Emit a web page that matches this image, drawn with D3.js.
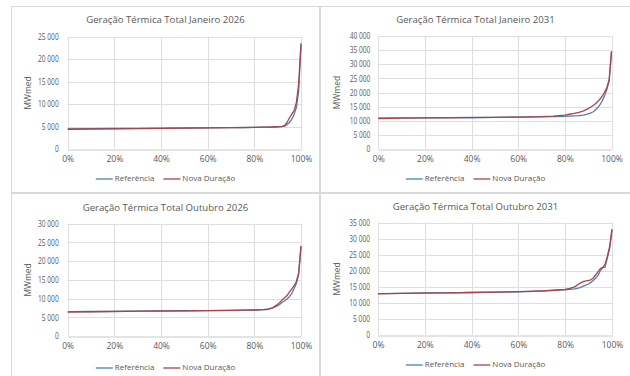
<!DOCTYPE html>
<html>
<head>
<meta charset="utf-8">
<script src="https://cdn.jsdelivr.net/npm/d3@7"></script>
<style>
  html, body { margin: 0; padding: 0; background: #fff; }
  svg { display: block; }
  text { font-family: "Open Sans", "Liberation Sans", sans-serif; fill: #595959; }
</style>
</head>
<body>
<svg id="chart" width="630" height="376"></svg>
<script>
// Share of hours (duration curve abscissa, %)
const durationPct = [0, 10, 20, 30, 40, 50, 60, 70, 75, 80, 82, 84, 86, 88, 90, 91, 92, 93, 94, 95, 96, 97, 98, 99, 100];

// Total thermal generation (MWmed), sorted ascending
const jan2026Referencia = [4500, 4530, 4560, 4600, 4640, 4680, 4720, 4760, 4790, 4820, 4840, 4860, 4880, 4900, 4950, 4970, 5000, 5100, 5400, 5900, 6600, 7600, 9200, 12800, 23600];
const jan2026NovaDuracao = [4400, 4450, 4500, 4550, 4600, 4650, 4700, 4740, 4780, 4810, 4830, 4850, 4870, 4900, 4950, 4990, 5050, 5250, 5900, 6900, 7700, 8500, 10300, 14500, 23200];

const jan2031Referencia = [10900, 11000, 11050, 11100, 11150, 11200, 11300, 11400, 11450, 11550, 11650, 11750, 11850, 12000, 12400, 12700, 13100, 13700, 14500, 15600, 17000, 18800, 21000, 24000, 34400];
const jan2031NovaDuracao = [10800, 10950, 11000, 11050, 11100, 11200, 11300, 11450, 11650, 12000, 12300, 12600, 13000, 13500, 14300, 14800, 15300, 15900, 16700, 17600, 18700, 20000, 21800, 24500, 34600];

const out2026Referencia = [6500, 6550, 6600, 6650, 6700, 6750, 6800, 6850, 6900, 6950, 7000, 7050, 7150, 7500, 8100, 8500, 9000, 9400, 9900, 10500, 11300, 12600, 14000, 16500, 24000];
const out2026NovaDuracao = [6400, 6480, 6550, 6620, 6680, 6730, 6780, 6840, 6890, 6950, 7000, 7060, 7150, 7600, 8500, 9000, 9700, 10200, 10800, 11700, 12500, 13400, 14500, 16800, 24000];

const out2031Referencia = [12900, 13000, 13100, 13150, 13250, 13350, 13450, 13700, 13900, 14100, 14250, 14400, 14700, 15300, 15900, 16400, 17000, 17700, 18500, 20000, 21000, 21100, 24000, 27000, 32700];
const out2031NovaDuracao = [12800, 12950, 13050, 13150, 13250, 13350, 13500, 13750, 13950, 14200, 14500, 15000, 16000, 16700, 17000, 17200, 17800, 18700, 19700, 20700, 21000, 22000, 24500, 27500, 33000];

const chartTitles = [
  "Geração Térmica Total Janeiro 2026",
  "Geração Térmica Total Janeiro 2031",
  "Geração Térmica Total Outubro 2026",
  "Geração Térmica Total Outubro 2031"
];
const yMaxima = [25000, 40000, 30000, 35000];
const yAxisTitle = "MWmed";
const xTicks = [0, 20, 40, 60, 80, 100];
const seriesNames = ["Referência", "Nova Duração"];
const seriesColors = ["#4f7fab", "#a8434d"];

const seriesByChart = [
  [jan2026Referencia, jan2026NovaDuracao],
  [jan2031Referencia, jan2031NovaDuracao],
  [out2026Referencia, out2026NovaDuracao],
  [out2031Referencia, out2031NovaDuracao]
];

// Panel frames and plot rectangles (absolute px)
const panels = [
  { x0: 11,  y0: 6,   x1: 320, y1: 193, plot: { l: 67.7,  r: 301,   t: 36.7,  b: 149 }, title: 20,  legend: 179, yTitleX: 29,  yPad: 9 },
  { x0: 320, y0: 6,   x1: 631, y1: 193, plot: { l: 378.3, r: 611.5, t: 36,    b: 149 }, title: 20,  legend: 179, yTitleX: 338, yPad: 8 },
  { x0: 11,  y0: 193, x1: 320, y1: 377, plot: { l: 67.7,  r: 301,   t: 223.7, b: 336 }, title: 208, legend: 368, yTitleX: 29,  yPad: 9 },
  { x0: 320, y0: 193, x1: 631, y1: 377, plot: { l: 378,   r: 612,   t: 222.7, b: 335 }, title: 207, legend: 365, yTitleX: 338, yPad: 8 }
];

const svg = d3.select("#chart");
const fmt = v => d3.format(",")(v).replace(/,/g, " ");

panels.forEach((p, i) => {
  const g = svg.append("g");

  // panel frame
  g.append("rect")
    .attr("x", p.x0 + 0.5).attr("y", p.y0 + 0.5)
    .attr("width", p.x1 - p.x0 - 1).attr("height", p.y1 - p.y0 - 1)
    .attr("fill", "#fff").attr("stroke", "#d9d9d9");

  const x = d3.scaleLinear().domain([0, 100]).range([p.plot.l, p.plot.r]);
  const y = d3.scaleLinear().domain([0, yMaxima[i]]).range([p.plot.b, p.plot.t]);
  const yTickVals = d3.range(0, yMaxima[i] + 1, 5000);

  // gridlines
  g.append("g").selectAll("line").data(yTickVals.filter(v => v > 0)).join("line")
    .attr("x1", p.plot.l).attr("x2", p.plot.r)
    .attr("y1", d => Math.round(y(d)) + 0.5).attr("y2", d => Math.round(y(d)) + 0.5)
    .attr("stroke", "#dedede").attr("stroke-width", 1);
  g.append("g").selectAll("line").data(xTicks).join("line")
    .attr("x1", d => Math.round(x(d)) + 0.5).attr("x2", d => Math.round(x(d)) + 0.5)
    .attr("y1", p.plot.t).attr("y2", p.plot.b)
    .attr("stroke", "#dedede").attr("stroke-width", 1);

  // y axis labels (condensed digits)
  const yAxis = d3.axisLeft(y).tickValues(yTickVals).tickFormat(fmt).tickSize(0).tickPadding(p.yPad);
  const ya = g.append("g").attr("transform", `translate(${p.plot.l},0)`).call(yAxis);
  ya.select(".domain").remove();
  ya.selectAll("text").attr("font-size", null).style("font-size", "8.5px").attr("fill", "#595959")
    .style("font-family", '"Open Sans", sans-serif')
    .each(function () {
      const w = this.getComputedTextLength();
      d3.select(this).attr("textLength", w * 0.78).attr("lengthAdjust", "spacingAndGlyphs");
    });

  // x axis
  const xAxis = d3.axisBottom(x).tickValues(xTicks).tickFormat(d => d + "%").tickSize(0).tickPadding(6);
  const xa = g.append("g").attr("transform", `translate(0,${Math.round(p.plot.b) + 0.5})`).call(xAxis);
  xa.select(".domain").attr("stroke", "#c8c8c8");
  xa.selectAll("text").style("font-size", "8.5px").attr("fill", "#595959")
    .style("font-family", '"Open Sans", sans-serif');

  // series lines
  const line = d3.line().x((d, k) => x(durationPct[k])).y(d => y(d)).curve(d3.curveLinear);
  seriesByChart[i].forEach((vals, s) => {
    g.append("path").datum(vals)
      .attr("d", line)
      .attr("fill", "none")
      .attr("stroke", seriesColors[s])
      .attr("stroke-width", 1.3)
      .attr("stroke-linejoin", "round");
  });

  // title
  const cx = (p.x0 + p.x1) / 2;
  g.append("text").attr("x", cx).attr("y", p.title)
    .attr("text-anchor", "middle").attr("dominant-baseline", "middle")
    .style("font-size", "9.6px").attr("fill", "#404040")
    .text(chartTitles[i]);

  // y axis title
  g.append("text")
    .attr("transform", `translate(${p.yTitleX},${(p.plot.t + p.plot.b) / 2}) rotate(-90)`)
    .attr("text-anchor", "middle").attr("dominant-baseline", "middle")
    .style("font-size", "8.5px").text(yAxisTitle);

  // legend
  const lg = g.append("g");
  const items = lg.selectAll("g").data(seriesNames).join("g");
  let offset = 0;
  items.each(function (name, s) {
    const it = d3.select(this).attr("transform", `translate(${offset},0)`);
    it.append("line").attr("x1", 0).attr("x2", 17).attr("y1", 0).attr("y2", 0)
      .attr("stroke", seriesColors[s]).attr("stroke-width", 1.3);
    const t = it.append("text").attr("x", 19).attr("y", 0)
      .attr("dominant-baseline", "middle").style("font-size", "8px").text(name);
    offset += 19 + t.node().getComputedTextLength() + 9;
  });
  const legendWidth = offset - 9;
  lg.attr("transform", `translate(${cx - legendWidth / 2},${p.legend})`);
});
</script>
</body>
</html>
